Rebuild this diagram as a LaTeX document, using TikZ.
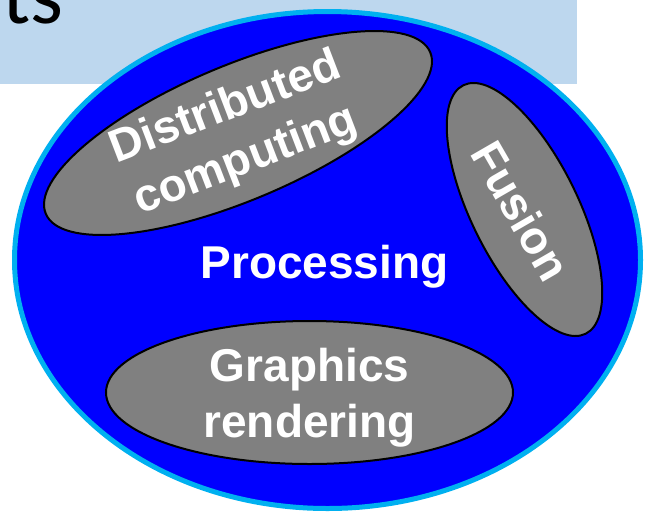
\documentclass[tikz,border=0pt]{standalone}
\usepackage{fontspec}
\setmainfont{Liberation Sans}
\newfontfamily\titlefont{Carlito}
\usetikzlibrary{shapes.geometric}
\definecolor{titlebg}{HTML}{BDD7EE}
\definecolor{rimcyan}{HTML}{00B0F0}
\definecolor{bigblue}{HTML}{0000FF}
\definecolor{blobgray}{HTML}{808080}
\tikzset{
  blob/.style={ellipse, draw=black, line width=2pt, fill=blobgray, inner sep=0pt, outer sep=0pt},
  blobtext/.style={text=white, font=\fontsize{46}{56}\selectfont\bfseries, align=center, inner sep=0pt},
}
\begin{document}
\begin{tikzpicture}[x=1pt, y=-1pt]
\useasboundingbox (0,0) rectangle (645,512);
\clip (0,0) rectangle (645,512);
% title band
\fill[titlebg] (0,0) rectangle (577,84);
\node[anchor=base east, inner sep=0pt, font=\titlefont\fontsize{84}{84}\selectfont] (title) at (64,23) {ts};
% big ellipse
\node[ellipse, draw=rimcyan, line width=5pt, fill=bigblue, minimum width=626pt, minimum height=497pt, inner sep=0pt] (proc) at (327.5,260) {};
% gray blobs
\node[blob, minimum width=417pt, minimum height=135pt, rotate=22.8] (dc) at (238,133) {};
\node[blob, minimum width=277pt, minimum height=107pt, rotate=-63.8] (fu) at (524.5,209.5) {};
\node[blob, minimum width=407pt, minimum height=143pt] (gr) at (309.5,392.5) {};
% labels
\node[blobtext, anchor=base] (proclabel) at (324.5,278) {Processing};
\node[blobtext, rotate=21] (dclabel) at (236,135) {Distributed\\computing};
\node[blobtext, rotate=-60] (fulabel) at (521,211) {Fusion};
\node[blobtext] (grlabel) at (309.5,398) {Graphics\\rendering};
\end{tikzpicture}
\end{document}
